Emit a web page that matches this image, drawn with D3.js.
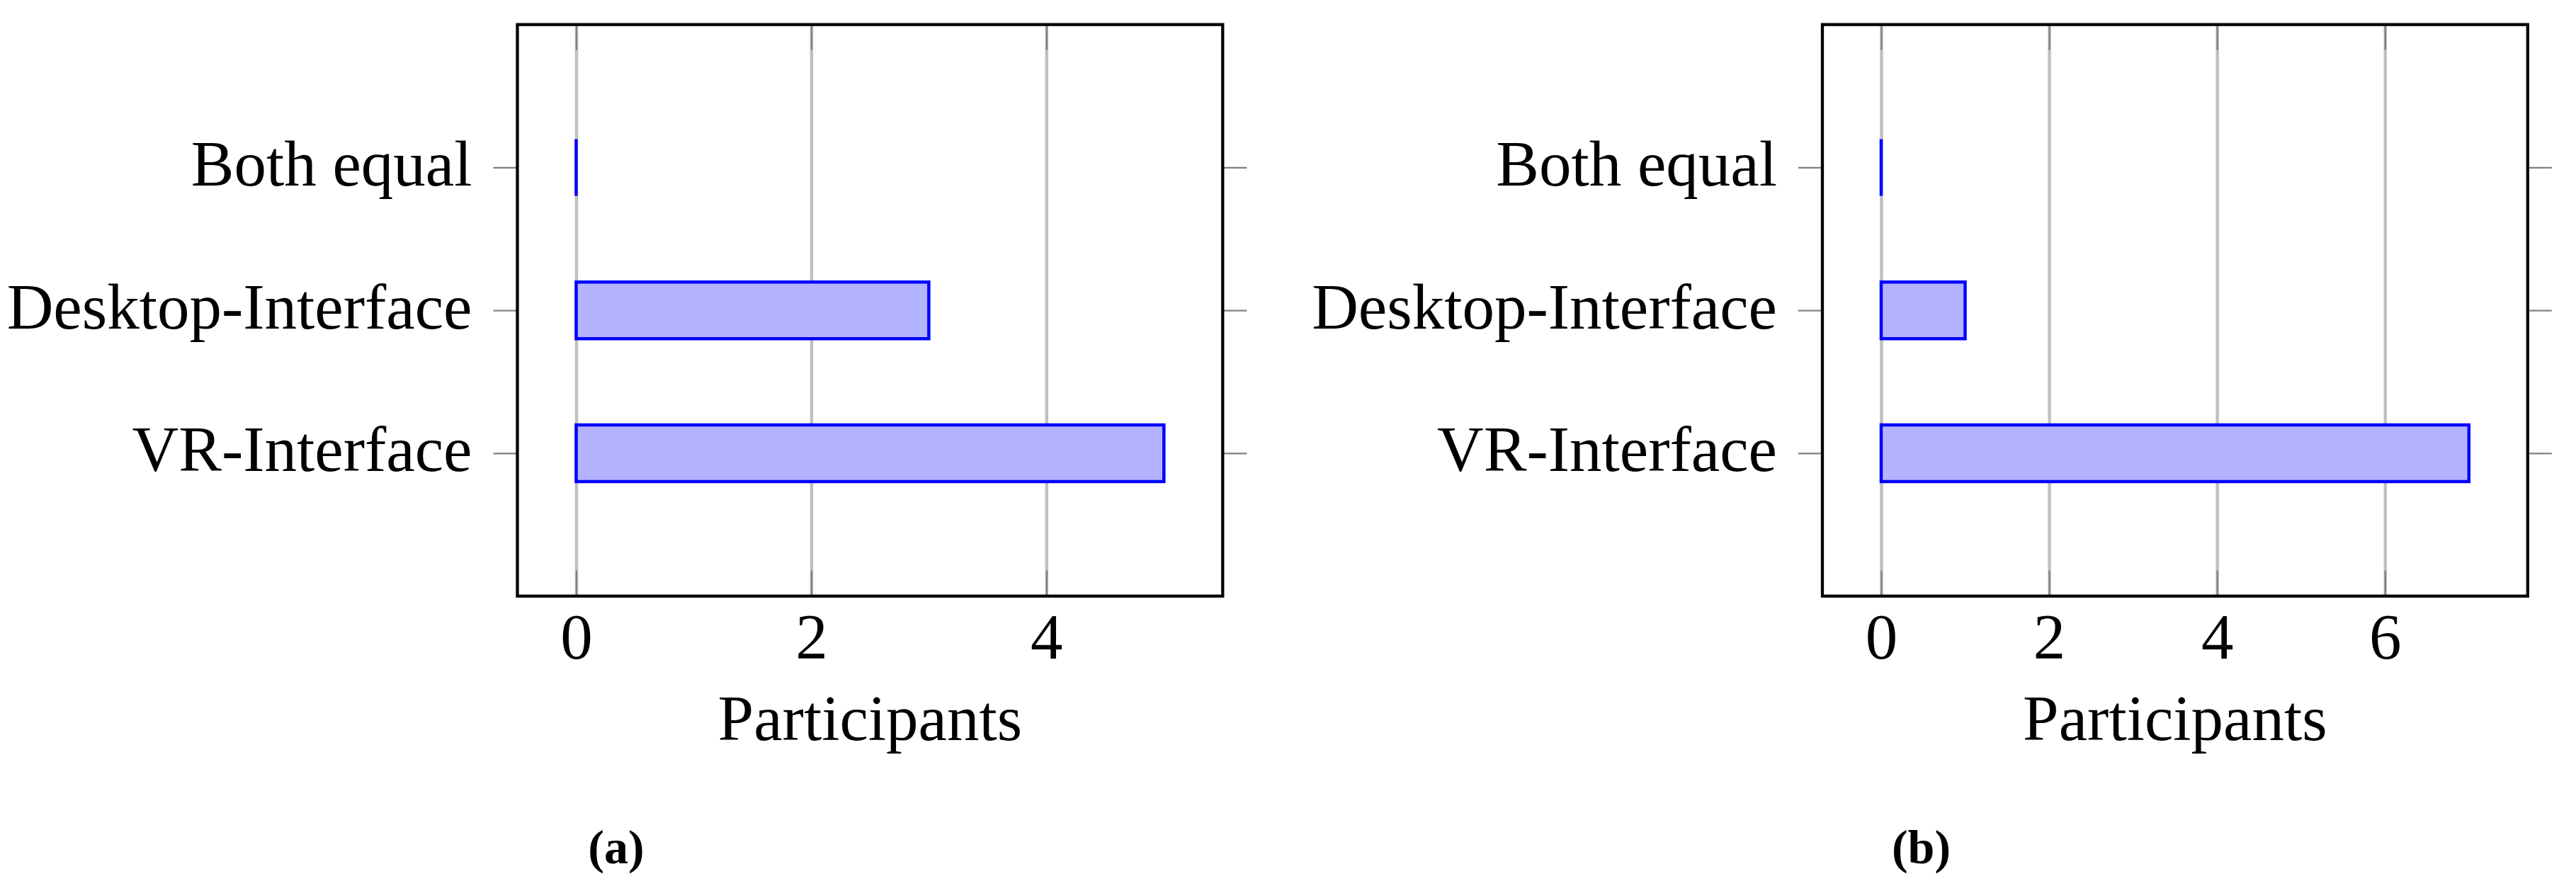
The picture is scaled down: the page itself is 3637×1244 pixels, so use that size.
<!DOCTYPE html>
<html>
<head>
<meta charset="utf-8">
<script src="https://cdn.jsdelivr.net/npm/d3@7"></script>
<style>
  html, body { margin: 0; padding: 0; background: #ffffff; }
  svg { display: block; }
  text { font-family: "Liberation Serif", "Times New Roman", serif; fill: #000; }
</style>
</head>
<body>
<script>
// ---------- data ----------
const categories = ["VR-Interface", "Desktop-Interface", "Both equal"];
const valuesA = [5, 3, 0];
const valuesB = [7, 1, 0];
const ticksA = [0, 2, 4];
const ticksB = [0, 2, 4, 6];
const domainA = [-0.5, 5.5];
const domainB = [-0.7, 7.7];
const xLabel = "Participants";
const captions = ["(a)", "(b)"];

// ---------- layout ----------
const W = 3637, H = 1244;
const frameTop = 34.7, frameH = 807, frameW = 995.8;
const panels = [
  { left: 730.5, values: valuesA, ticks: ticksA, domain: domainA, caption: captions[0] },
  { left: 2573, values: valuesB, ticks: ticksB, domain: domainB, caption: captions[1] }
];

const svg = d3.select("body").append("svg").attr("width", W).attr("height", H);

const FS = 91;

panels.forEach(p => {
  const g = svg.append("g").attr("transform", `translate(${p.left},${frameTop})`);
  const x = d3.scaleLinear().domain(p.domain).range([0, frameW]);
  const y = d3.scalePoint().domain(categories).range([frameH, 0]).padding(1);

  // grid lines
  const grid = g.append("g").attr("transform", `translate(0,${frameH})`)
    .call(d3.axisBottom(x).tickValues(p.ticks).tickSize(-frameH).tickFormat(""));
  grid.select(".domain").remove();
  grid.selectAll("line").attr("stroke", "#c0c0c0").attr("stroke-width", 4.5);

  // bars (path so zero-length bars still show their outline)
  const barH = 80;
  g.append("g").selectAll("path").data(categories).join("path")
    .attr("d", (c, i) => {
      const pa = d3.path();
      const x0 = x(0), x1 = x(p.values[i]);
      const y0 = y(c) - barH / 2, y1 = y(c) + barH / 2;
      pa.moveTo(x0, y0); pa.lineTo(x1, y0); pa.lineTo(x1, y1); pa.lineTo(x0, y1); pa.closePath();
      return pa.toString();
    })
    .attr("fill", "#b3b3ff")
    .attr("stroke", "#0000ff")
    .attr("stroke-width", 4.5);

  // x ticks inside (bottom) with labels
  const xb = g.append("g").attr("transform", `translate(0,${frameH})`)
    .call(d3.axisBottom(x).tickValues(p.ticks).tickSize(-36).tickFormat(d3.format("d")));
  xb.select(".domain").remove();
  xb.selectAll("line").attr("stroke", "#808080").attr("stroke-width", 2.3);
  xb.selectAll("text").attr("y", 88).attr("dy", null)
    .style("font-size", FS + "px").attr("font-family", null);

  // mirrored x ticks at top
  const xt = g.append("g")
    .call(d3.axisTop(x).tickValues(p.ticks).tickSize(-36).tickFormat(""));
  xt.select(".domain").remove();
  xt.selectAll("line").attr("stroke", "#808080").attr("stroke-width", 2.3);

  // y ticks outside left with labels
  const yl = g.append("g").call(d3.axisLeft(y).tickSize(34).tickPadding(30));
  yl.select(".domain").remove();
  yl.selectAll("line").attr("stroke", "#808080").attr("stroke-width", 2.3);
  yl.selectAll("text").attr("dy", null).attr("y", 25)
    .style("font-size", FS + "px").attr("font-family", null);

  // mirrored y ticks outside right
  const yr = g.append("g").attr("transform", `translate(${frameW},0)`)
    .call(d3.axisRight(y).tickSize(34).tickFormat(""));
  yr.select(".domain").remove();
  yr.selectAll("line").attr("stroke", "#808080").attr("stroke-width", 2.3);

  // frame
  g.append("rect").attr("x", 0).attr("y", 0).attr("width", frameW).attr("height", frameH)
    .attr("fill", "none").attr("stroke", "#000").attr("stroke-width", 4.3);

  // axis label
  g.append("text").attr("x", frameW / 2).attr("y", 1045 - frameTop)
    .attr("text-anchor", "middle").style("font-size", FS + "px").text(xLabel);

  // caption
  g.append("text").attr("x", 139.5).attr("y", 1219 - frameTop)
    .attr("text-anchor", "middle").style("font-size", "68px").style("font-weight", "bold")
    .text(p.caption);
});
</script>
</body>
</html>
